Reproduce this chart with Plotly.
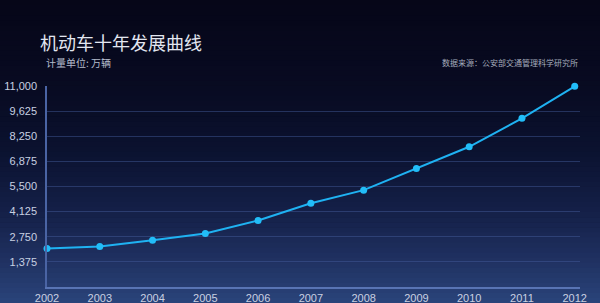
import plotly.graph_objects as go

years = [2002, 2003, 2004, 2005, 2006, 2007, 2008, 2009, 2010, 2011, 2012]
vehicles = [2105, 2214, 2560, 2927, 3639, 4587, 5300, 6489, 7673, 9229, 10980]
y_ticks = [1375, 2750, 4125, 5500, 6875, 8250, 9625, 11000]
y_tick_labels = ["1,375", "2,750", "4,125", "5,500", "6,875", "8,250", "9,625", "11,000"]

title_text = "机动车十年发展曲线"
unit_text = "计量单位: 万辆"
source_text = "数据来源：公安部交通管理科学研究所"

fig = go.Figure()
fig.add_trace(go.Scatter(
    x=years, y=vehicles, mode="lines+markers",
    line=dict(color="#1fb2f2", width=2),
    marker=dict(color="#22bdf8", size=7),
    cliponaxis=False, showlegend=False,
))

# vertical gradient background via stacked rectangles
stops = [(0.0, (6, 6, 24)), (0.30, (8, 11, 34)), (0.50, (11, 18, 48)),
         (0.70, (20, 32, 72)), (0.85, (31, 48, 96)), (1.0, (42, 68, 122))]
def col_at(t):
    for (t0, c0), (t1, c1) in zip(stops[:-1], stops[1:]):
        if t0 <= t <= t1:
            f = (t - t0) / (t1 - t0)
            return tuple(int(round(a + (b - a) * f)) for a, b in zip(c0, c1))
    return stops[-1][1]

W, H = 600, 303
L, R, T, B = 47, 20, 86, 16
ph = H - T - B
pw = W - L - R
n = 60
shapes = []
for i in range(n):
    py0 = i * H / n
    py1 = (i + 1) * H / n
    t = (i + 0.5) / n
    r, g, b = col_at(t)
    y1 = (H - B - py0) / ph
    y0 = (H - B - py1 - 0.6) / ph
    shapes.append(dict(type="rect", xref="paper", yref="paper", layer="below",
                       x0=-L / pw - 0.02, x1=1 + R / pw + 0.02, y0=y0, y1=y1, line=dict(width=0),
                       fillcolor=f"rgb({r},{g},{b})"))

def py(pix):
    return (H - B - pix) / ph

fig.update_layout(
    width=W, height=H,
    margin=dict(l=L, r=R, t=T, b=B, autoexpand=False),
    paper_bgcolor="#060618", plot_bgcolor="rgba(0,0,0,0)",
    shapes=shapes,
    font=dict(family="Liberation Sans, Arial, sans-serif", color="#c8d0e2", size=11),
    xaxis=dict(range=[2002, 2012.1], tickvals=years, ticktext=[str(y) for y in years],
               showgrid=False, zeroline=False, showline=True, linecolor="#5874b4", linewidth=1.5,
               ticks="", automargin=False, tickfont=dict(size=11, color="#c8d0e2"), fixedrange=True),
    yaxis=dict(range=[0, 11000], tickvals=y_ticks, ticktext=y_tick_labels,
               showgrid=True, gridcolor="rgba(70,95,160,0.45)", gridwidth=1,
               zeroline=False, showline=True, linecolor="#4a64a4", linewidth=1.5,
               ticks="", automargin=False, ticklabelstandoff=6, tickfont=dict(size=11, color="#c8d0e2")),
    annotations=[
        dict(text=title_text, xref="paper", yref="paper", x=(38 - L) / pw, y=py(42),
             xanchor="left", yanchor="middle", showarrow=False,
             font=dict(family="Noto Sans CJK SC", size=18, color="#e2e6f0")),
        dict(text=unit_text, xref="paper", yref="paper", x=(44 - L) / pw, y=py(63),
             xanchor="left", yanchor="middle", showarrow=False,
             font=dict(family="Noto Sans CJK SC", size=10, color="#b4bccc")),
        dict(text=source_text, xref="paper", yref="paper", x=1.0, y=py(62),
             xanchor="right", yanchor="middle", showarrow=False,
             font=dict(family="Noto Sans CJK SC", size=8, color="#a4acbc")),
    ],
)

fig.write_html("out.html")
